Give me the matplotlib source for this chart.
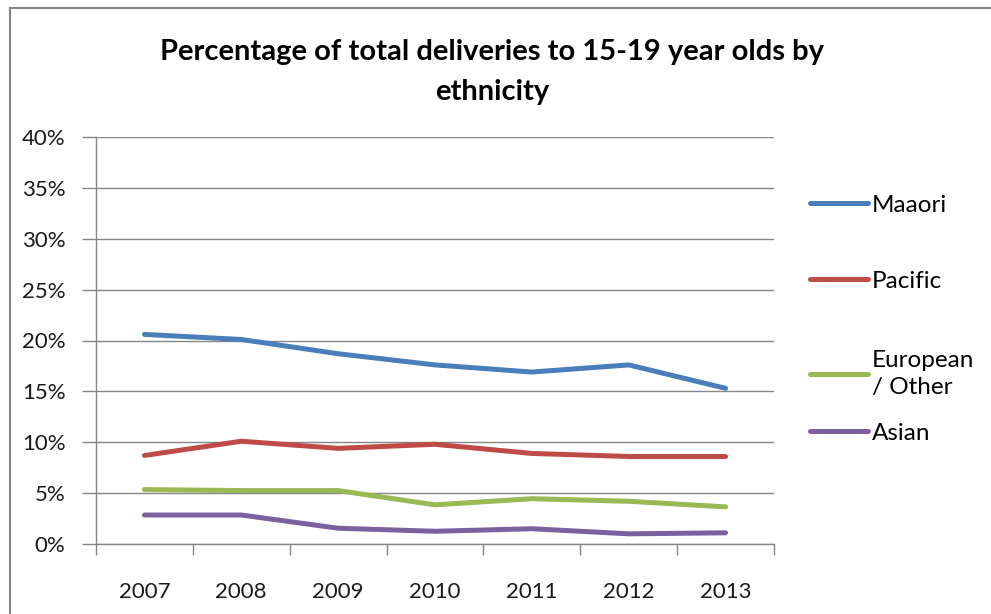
import matplotlib
matplotlib.use('Agg')
import matplotlib.pyplot as plt
from matplotlib.lines import Line2D
from matplotlib.legend import Legend
from matplotlib.ticker import FuncFormatter

years = ["2007", "2008", "2009", "2010", "2011", "2012", "2013"]
maaori   = [20.6, 20.1, 18.7, 17.6, 16.9, 17.6, 15.3]
pacific  = [8.7, 10.1, 9.4, 9.8, 8.9, 8.6, 8.6]
european = [5.35, 5.25, 5.25, 3.85, 4.45, 4.2, 3.65]
asian    = [2.85, 2.85, 1.55, 1.25, 1.5, 1.0, 1.1]

series = [
    ("Maaori", maaori, "#4A7EBB"),
    ("Pacific", pacific, "#BE4B48"),
    ("European\n/ Other", european, "#98B954"),
    ("Asian", asian, "#7D60A0"),
]

plt.rcParams['font.family'] = ['Lato', 'DejaVu Sans']

fig = plt.figure(figsize=(9.91, 6.14), dpi=100)
ax = fig.add_axes([96 / 991, 1 - 544 / 614, (774 - 96) / 991, (544 - 137) / 614])

x = list(range(len(years)))
lines = []
for name, vals, col in series:
    ln, = ax.plot(x, vals, color=col, lw=3.6, solid_capstyle='round',
                  solid_joinstyle='round', label=name, zorder=3)
    lines.append(ln)

ax.set_xlim(-0.5, len(years) - 0.5)
ax.set_ylim(0, 40)
ax.set_yticks(range(0, 41, 5))
ax.yaxis.set_major_formatter(FuncFormatter(lambda v, p: f"{int(v)}%"))
ax.set_xticks(x)
ax.set_xticklabels(years)
ax.set_xticks([i - 0.5 for i in range(len(years) + 1)], minor=True)
ax.tick_params(axis='x', which='major', length=0, pad=27, labelsize=16, labelcolor='#1a1a1a')
ax.tick_params(axis='x', which='minor', length=8, width=1, color='#868686', direction='out')
ax.tick_params(axis='y', length=10, width=1, color='#868686', direction='out',
               pad=12, labelsize=16, labelcolor='#1a1a1a')
ax.grid(axis='y', color='#868686', lw=1)
ax.set_axisbelow(True)
for s in ['top', 'right']:
    ax.spines[s].set_visible(False)
for s in ['left', 'bottom']:
    ax.spines[s].set_color('#868686')
    ax.spines[s].set_linewidth(1)

fig.text(0.4965, 1 - 52 / 614, "Percentage of total deliveries to 15-19 year olds by",
         ha='center', va='center', fontsize=21, fontweight='bold')
fig.text(0.4965, 1 - 92 / 614, "ethnicity",
         ha='center', va='center', fontsize=21, fontweight='bold')

# legend entries, one per series
leg_y = [205, 281, 374, 433]
for ln, yy in zip(lines, leg_y):
    lg = Legend(ax, [ln], [ln.get_label()], loc='center left',
                bbox_to_anchor=(810 / 991, 1 - yy / 614),
                bbox_transform=fig.transFigure, frameon=False, fontsize=17.5,
                handlelength=2.4, handletextpad=0.15, borderpad=0, borderaxespad=0)
    for t in lg.get_texts():
        t.set_linespacing(1.3)
    ax.add_artist(lg)

# chart border (left and top visible)
bx, by = 10 / 991, 1 - 8 / 614
fig.add_artist(Line2D([bx, bx], [0, by], transform=fig.transFigure, color='#868686', lw=1.5))
fig.add_artist(Line2D([bx, 1.05], [by, by], transform=fig.transFigure, color='#868686', lw=1.5))

fig.savefig("out.png", dpi=100)
